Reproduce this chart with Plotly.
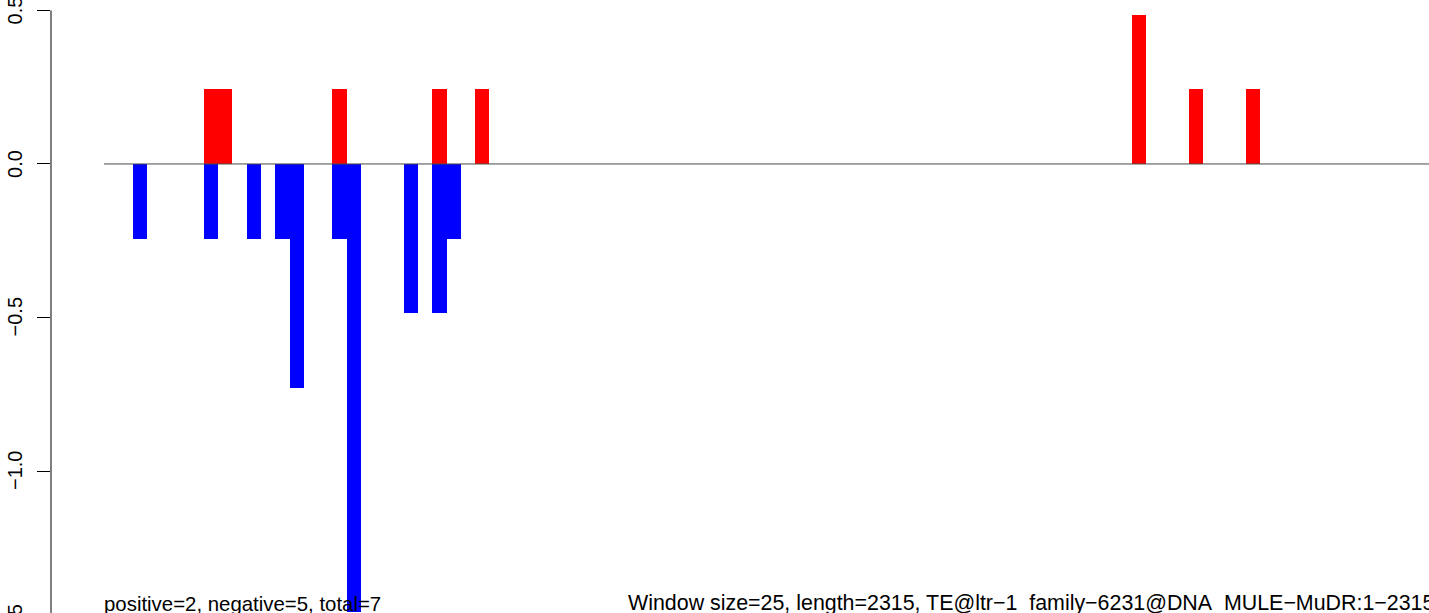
import plotly.graph_objects as go

# ---- data ----
window_size = 25
seq_length = 2315
# window indices (0-based) and values
pos_windows = [7, 8, 16, 23, 26, 72, 76, 80]
pos_values = [0.243, 0.243, 0.243, 0.243, 0.243, 0.486, 0.243, 0.243]
neg_windows = [2, 7, 10, 12, 13, 16, 17, 21, 23, 24]
neg_values = [-0.243, -0.243, -0.243, -0.243, -0.729, -0.243, -1.46, -0.486, -0.486, -0.243]

tick_vals = [0.5, 0.0, -0.5, -1.0, -1.5]
tick_text = ["0.5", "0.0", "\u22120.5", "\u22121.0", "\u22121.5"]

left_note = "positive=2, negative=5, total=7"
right_note = "Window size=25, length=2315, TE@ltr\u22121_family\u22126231@DNA_MULE\u2212MuDR:1\u22122315"

FONT = "Liberation Sans, Arial, Helvetica, sans-serif"
Y_MIN, Y_MAX = -1.4625, 0.534

pos_x = [w * window_size + window_size / 2 for w in pos_windows]
neg_x = [w * window_size + window_size / 2 for w in neg_windows]

fig = go.Figure()
fig.add_trace(go.Bar(x=pos_x, y=pos_values, width=window_size,
                     marker=dict(color="#FF0000", line=dict(width=0)),
                     showlegend=False, hoverinfo="x+y"))
fig.add_trace(go.Bar(x=neg_x, y=neg_values, width=window_size,
                     marker=dict(color="#0000FF", line=dict(width=0)),
                     showlegend=False, hoverinfo="x+y"))

# zero line across the sequence
fig.add_shape(type="line", xref="x", yref="y", x0=0, x1=seq_length + 10, y0=0, y1=0,
              line=dict(color="#4a4a4a", width=1), layer="above")
# y axis line (only across tick range)
fig.add_shape(type="line", xref="paper", yref="y", x0=0, x1=0, y0=0.5, y1=-1.5,
              line=dict(color="black", width=1))

# tick labels placed in paper coordinates so off-range labels still draw
for v, t in zip(tick_vals, tick_text):
    ypaper = (v - Y_MIN) / (Y_MAX - Y_MIN)
    fig.add_annotation(x=0, xref="paper", y=ypaper, yref="paper", text=t, textangle=-90,
                       showarrow=False, xanchor="center", yanchor="middle", xshift=-36,
                       font=dict(family=FONT, size=20, color="black"))

fig.add_annotation(x=0, xref="x", y=0, yref="paper", text=left_note, showarrow=False,
                   xanchor="left", yanchor="bottom", yshift=-4, xshift=-2,
                   font=dict(family=FONT, size=20.4, color="black"))
fig.add_annotation(x=0, xref="paper", y=0, yref="paper", text=right_note, showarrow=False,
                   xanchor="left", yanchor="bottom", yshift=-4, xshift=575,
                   font=dict(family=FONT, size=21.4, color="black"))

fig.update_layout(
    width=1429, height=613,
    margin=dict(l=51, r=0, t=0, b=0),
    paper_bgcolor="white", plot_bgcolor="white",
    barmode="overlay", bargap=0,
    xaxis=dict(range=[-92.8, 2320.5], visible=False, showgrid=False, zeroline=False),
    yaxis=dict(range=[Y_MIN, Y_MAX], showgrid=False, zeroline=False, showline=False,
               tickvals=tick_vals, ticks="outside", ticklen=13, tickcolor="black", tickwidth=1,
               showticklabels=False),
)

fig.write_html("out.html", config={"displayModeBar": False},
               post_script="document.body.style.margin='0';")
